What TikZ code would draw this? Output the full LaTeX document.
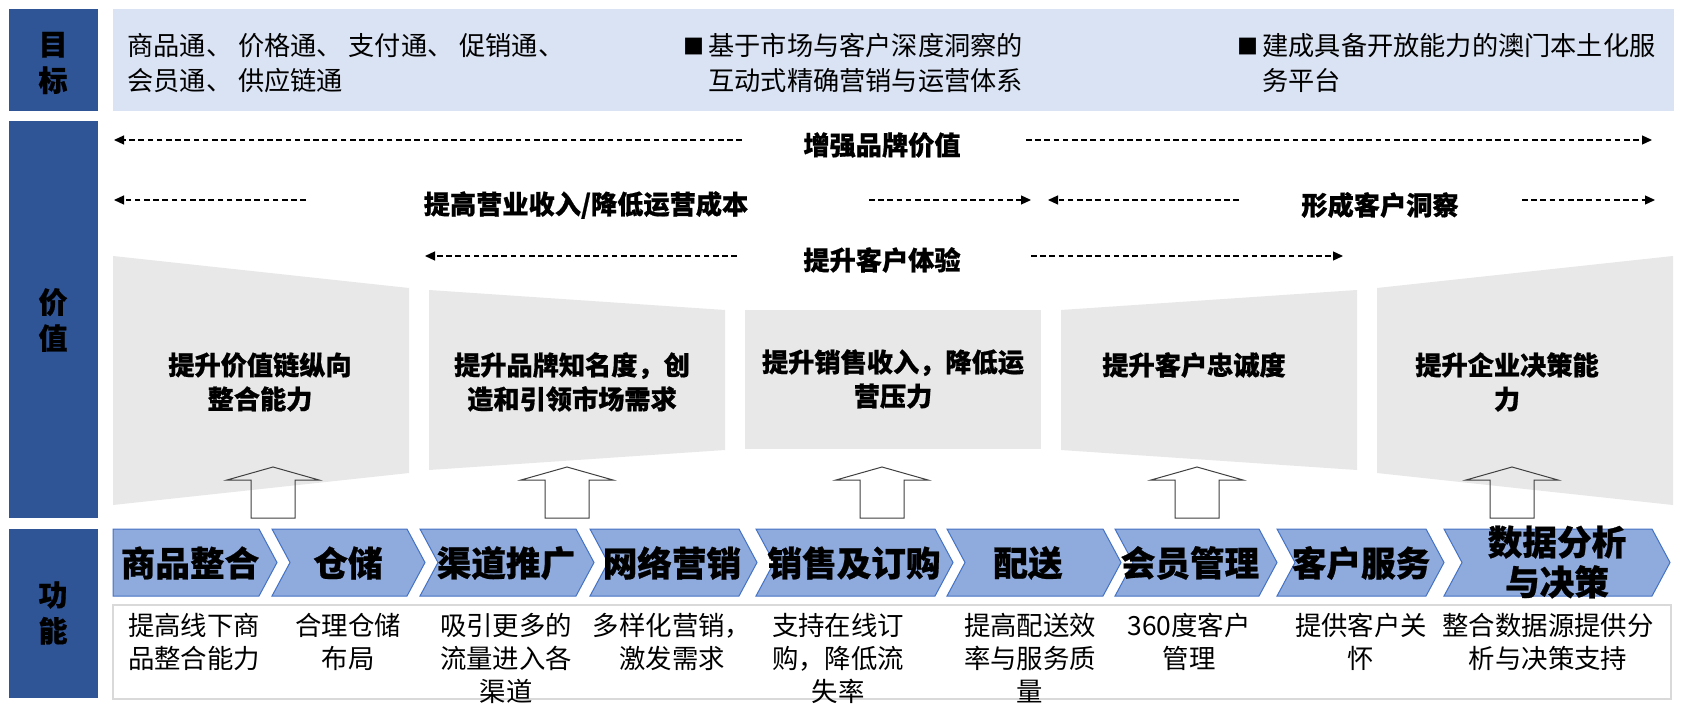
\documentclass[tikz,border=0pt]{standalone}
\usepackage{fontspec}
\setmainfont{Noto Sans CJK SC}[BoldFeatures={FakeBold=0.7}]
\usetikzlibrary{arrows.meta}
\definecolor{dkblue}{HTML}{2F5597}
\definecolor{goalbg}{HTML}{DAE3F3}
\definecolor{chevfill}{HTML}{8FAADC}
\definecolor{chevline}{HTML}{4472C4}
\definecolor{shapegray}{HTML}{E8E8E8}
\definecolor{descline}{HTML}{D9D9D9}
\definecolor{arrline}{HTML}{404040}
\newcommand\sqbul{\makebox[12.5pt][l]{\raisebox{0.5pt}{\fontsize{10.5pt}{10.5pt}\selectfont ■}}}
\newcommand\sqgap{\hspace*{12.5pt}}
\begin{document}
\begin{tikzpicture}[x=0.5pt,y=-0.5pt,
  sidebar/.style={fill=dkblue, draw=none},
  sidelabel/.style={font=\fontsize{14.5pt}{18pt}\selectfont\bfseries, align=center, inner sep=0},
  goaltext/.style={font=\fontsize{13.1pt}{17.5pt}\selectfont, align=left, inner sep=0, anchor=west},
  valtext/.style={font=\fontsize{13.1pt}{17pt}\selectfont\bfseries, align=center, inner sep=0},
  dasharrow/.style={dash pattern=on 2.8pt off 1.8pt, line width=0.6pt, -{Triangle[length=5pt,width=4.5pt]}},
  grayshape/.style={fill=shapegray, draw=none},
  uparrow/.style={draw=arrline, line width=0.5pt, fill=none},
  chev/.style={fill=chevfill, draw=chevline, line width=0.5pt},
  chevtext/.style={font=\fontsize{17.3pt}{20pt}\selectfont\bfseries, align=center, inner sep=0},
  desctext/.style={font=\fontsize{13.2pt}{16.5pt}\selectfont, align=center, inner sep=0}
]
\useasboundingbox (0,0) rectangle (1685,711);
\fill[white] (0,0) rectangle (1685,711);

% side bars
\fill[sidebar] (9,9) rectangle (98,111);
\fill[sidebar] (9,121) rectangle (98,518);
\fill[sidebar] (9,529) rectangle (98,698);
\node[sidelabel] (lgoal) at (53,63) {目\\标};
\node[sidelabel] (lval) at (53,320) {价\\值};
\node[sidelabel] (lfun) at (53,613) {功\\能};

% goal box
\fill[goalbg] (113,9) rectangle (1674,111);
\node[goaltext] (g1) at (127,63) {商品通、 价格通、 支付通、 促销通、\\会员通、 供应链通};
\node[goaltext] (g2) at (683,63) {\sqbul 基于市场与客户深度洞察的\\\sqgap 互动式精确营销与运营体系};
\node[goaltext] (g3) at (1237,63) {\sqbul 建成具备开放能力的澳门本土化服\\\sqgap 务平台};

% value row labels
\node[valtext] (t1) at (882,145) {增强品牌价值};
\node[valtext] (t2) at (586,205) {提高营业收入/降低运营成本};
\node[valtext] (t3) at (1380,205) {形成客户洞察};
\node[valtext] (t4) at (882,260) {提升客户体验};

\coordinate (a1s) at (742,140);  \coordinate (a1e) at (114,140);
\coordinate (a2s) at (1026,140); \coordinate (a2e) at (1652,140);
\coordinate (b1s) at (306,200);  \coordinate (b1e) at (114,200);
\coordinate (b2s) at (869,200);  \coordinate (b2e) at (1031,200);
\coordinate (b3s) at (1239,200); \coordinate (b3e) at (1048,200);
\coordinate (b4s) at (1522,200); \coordinate (b4e) at (1655,200);
\coordinate (c1s) at (737,256);  \coordinate (c1e) at (425,256);
\coordinate (c2s) at (1031,256); \coordinate (c2e) at (1343,256);
\foreach \s/\e in {a1s/a1e,a2s/a2e,b1s/b1e,b2s/b2e,b3s/b3e,b4s/b4e,c1s/c1e,c2s/c2e}
  \draw[dasharrow] (\s) -- (\e);

% gray shapes
\fill[grayshape] (113,256) -- (409,288) -- (409,473) -- (113,505) -- cycle;
\fill[grayshape] (429,290) -- (725,310) -- (725,450) -- (429,470) -- cycle;
\fill[grayshape] (745,310) -- (1041,310) -- (1041,449) -- (745,449) -- cycle;
\fill[grayshape] (1061,310) -- (1357,290) -- (1357,470) -- (1061,450) -- cycle;
\fill[grayshape] (1377,288) -- (1673,256) -- (1673,505) -- (1377,473) -- cycle;

\node[valtext] (v1) at (260,382) {提升价值链纵向\\整合能力};
\node[valtext] (v2) at (572,382) {提升品牌知名度，创\\造和引领市场需求};
\node[valtext] (v3) at (893,379) {提升销售收入，降低运\\营压力};
\node[valtext] (v4) at (1194,365) {提升客户忠诚度};
\node[valtext] (v5) at (1507,382) {提升企业决策能\\力};

% block up arrows
\foreach \cx in {273,567,882,1197,1512}
  \draw[uparrow] (\cx-22,518) -- (\cx-22,480) -- (\cx-46,480) -- (\cx,467)
     -- (\cx+46,480) -- (\cx+22,480) -- (\cx+22,518) -- cycle;

% chevrons
\draw[chev] (113,529) -- (259,529) -- (277,562.5) -- (259,596) -- (113,596) -- cycle;
\foreach \L/\R in {272/407,420/576,590/739,756/935,947/1103,1115/1259,1277/1426,1444/1652}
  \draw[chev] (\L,529) -- (\R,529) -- (\R+18,562.5) -- (\R,596) -- (\L,596) -- (\L+18,562.5) -- cycle;

\node[chevtext] (f1) at (190,563) {商品整合};
\node[chevtext] (f2) at (348,563) {仓储};
\node[chevtext] (f3) at (506,563) {渠道推广};
\node[chevtext] (f4) at (672,563) {网络营销};
\node[chevtext] (f5) at (854,563) {销售及订购};
\node[chevtext] (f6) at (1028,563) {配送};
\node[chevtext] (f7) at (1190,563) {会员管理};
\node[chevtext] (f8) at (1361,563) {客户服务};
\node[chevtext] (f9) at (1557,562) {数据分析\\与决策};

% description box
\draw[descline, fill=white, line width=0.6pt] (113,605) rectangle (1671,699);
\node[desctext] (d1) at (194,641.5) {提高线下商\\品整合能力};
\node[desctext] (d2) at (348,641.5) {合理仓储\\布局};
\node[desctext] (d3) at (506,658) {吸引更多的\\流量进入各\\渠道};
\node[desctext] (d4) at (672,641.5) {多样化营销，\\激发需求};
\node[desctext] (d5) at (838,658) {支持在线订\\购，降低流\\失率};
\node[desctext] (d6) at (1030,658) {提高配送效\\率与服务质\\量};
\node[desctext] (d7) at (1189,641.5) {360度客户\\管理};
\node[desctext] (d8) at (1361,641.5) {提供客户关\\怀};
\node[desctext] (d9) at (1548,641.5) {整合数据源提供分\\析与决策支持};
\end{tikzpicture}
\end{document}
